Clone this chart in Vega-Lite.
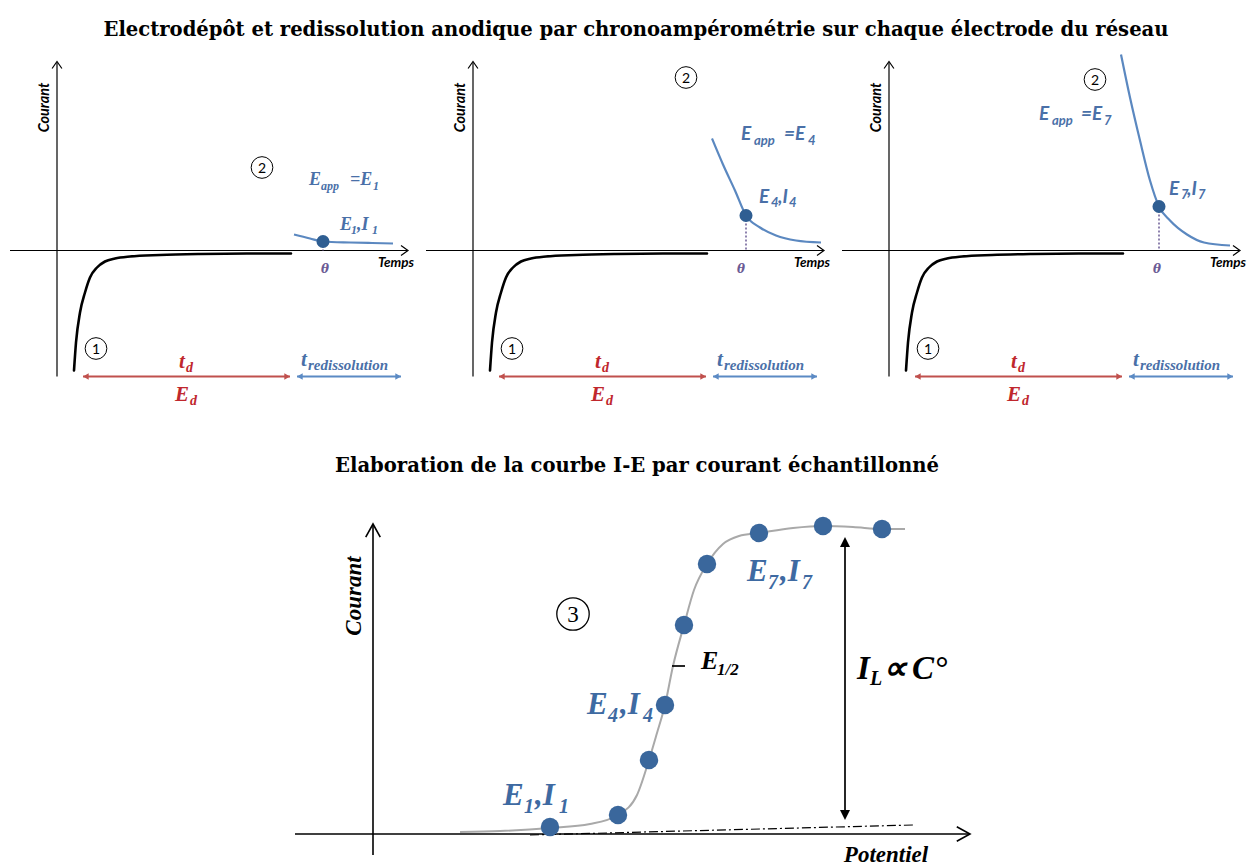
{
"$schema": "https://vega.github.io/schema/vega-lite/v6.json",
"padding": {"left": 0, "right": 0, "top": 18.5, "bottom": 0},
"background": "white",
"spacing": 45.5,
"title": {"text": "Electrodépôt et redissolution anodique par chronoampérométrie sur chaque électrode du réseau", "font": "DejaVu Serif", "fontSize": 19.6, "fontWeight": "bold", "color": "black", "anchor": "start", "align": "center", "frame": "group", "offset": 10, "dx": 636},
"config": {"view": {"stroke": null}, "axis": {"disable": true}, "legend": {"disable": true}, "facet": {"spacing": 0}},
"datasets": {
"top": [
{"p":[1,2,3],"k":"axis","t":-47,"I":0,"t2":350,"I2":0},
{"p":[1,2,3],"k":"axis","t":0,"I":-126,"t2":0,"I2":188},
{"p":[1,2,3],"k":"hR","t":351,"I":0},
{"p":[1,2,3],"k":"hU","t":0,"I":189},
{"p":[1,2,3],"k":"blk","t":17,"I":-120},
{"p":[1,2,3],"k":"blk","t":19,"I":-92},
{"p":[1,2,3],"k":"blk","t":23,"I":-62},
{"p":[1,2,3],"k":"blk","t":28,"I":-42},
{"p":[1,2,3],"k":"blk","t":33,"I":-27},
{"p":[1,2,3],"k":"blk","t":40,"I":-17},
{"p":[1,2,3],"k":"blk","t":48,"I":-11},
{"p":[1,2,3],"k":"blk","t":58,"I":-8},
{"p":[1,2,3],"k":"blk","t":73,"I":-6},
{"p":[1,2,3],"k":"blk","t":103,"I":-4.5},
{"p":[1,2,3],"k":"blk","t":143,"I":-3.5},
{"p":[1,2,3],"k":"blk","t":190,"I":-3},
{"p":[1,2,3],"k":"blk","t":234,"I":-3},
{"p":[1,2,3],"k":"arr","c":"r","t":26,"t2":233,"I":-126,"I2":-126},
{"p":[1,2,3],"k":"arr","c":"b","t":240,"t2":344,"I":-126,"I2":-126},
{"p":[1,2,3],"k":"aL","c":"r","t":26,"I":-126},
{"p":[1,2,3],"k":"aR","c":"r","t":233,"I":-126},
{"p":[1,2,3],"k":"aL","c":"b","t":240,"I":-126},
{"p":[1,2,3],"k":"aR","c":"b","t":344,"I":-126},
{"p":[1,2,3],"k":"circ","t":39,"I":-98,"s":"1"},
{"p":[1,2,3],"k":"yl","t":-12,"I":143,"s":"Courant"},
{"p":[1,2,3],"k":"xl","t":339,"I":-12,"s":"Temps"},
{"p":[1,2,3],"k":"th","t":268,"I":-18,"s":"θ"},
{"p":[1,2,3],"k":"rm","t":122,"I":-117,"s":"t"},
{"p":[1,2,3],"k":"rs","t":129,"I":-121,"s":"d"},
{"p":[1,2,3],"k":"rm","t":118,"I":-150,"s":"E"},
{"p":[1,2,3],"k":"rs","t":133,"I":-154,"s":"d"},
{"p":[1,2,3],"k":"bm","t":244,"I":-115,"s":"t"},
{"p":[1,2,3],"k":"bs","t":251,"I":-119,"s":"redissolution"},

{"p":[1],"k":"blu","t":237,"I":16},
{"p":[1],"k":"blu","t":253,"I":12},
{"p":[1],"k":"blu","t":266,"I":9},
{"p":[1],"k":"blu","t":293,"I":8},
{"p":[1],"k":"blu","t":315,"I":7.5},
{"p":[1],"k":"blu","t":336,"I":7},
{"p":[1],"k":"pt","t":266,"I":9},
{"p":[1],"k":"dot","t":266,"I":9,"t2":266,"I2":0},
{"p":[1],"k":"circ","t":205,"I":83,"s":"2"},
{"p":[1],"k":"ef","t":252,"I":66,"s":"E"},
{"p":[1],"k":"efs","t":264,"I":61,"s":"app"},
{"p":[1],"k":"ef","t":293,"I":66,"s":"=E"},
{"p":[1],"k":"efs","t":316,"I":61,"s":"1"},
{"p":[1],"k":"ef","t":283,"I":21,"s":"E"},
{"p":[1],"k":"efs","t":294,"I":17,"s":"1"},
{"p":[1],"k":"ef","t":300,"I":21,"s":",I"},
{"p":[1],"k":"efs","t":315,"I":17,"s":"1"},

{"p":[2],"k":"blu","t":239,"I":112},
{"p":[2],"k":"blu","t":250,"I":86},
{"p":[2],"k":"blu","t":262,"I":60},
{"p":[2],"k":"blu","t":273,"I":35},
{"p":[2],"k":"blu","t":287,"I":23},
{"p":[2],"k":"blu","t":303,"I":15},
{"p":[2],"k":"blu","t":323,"I":10},
{"p":[2],"k":"blu","t":348,"I":8},
{"p":[2],"k":"pt","t":273,"I":35},
{"p":[2],"k":"dot","t":273,"I":35,"t2":273,"I2":0},
{"p":[2],"k":"circ","t":213,"I":173,"s":"2"},
{"p":[2],"k":"ea","t":268,"I":111,"s":"E"},
{"p":[2],"k":"eas","t":281,"I":106,"s":"app"},
{"p":[2],"k":"ea","t":311,"I":111,"s":"=E"},
{"p":[2],"k":"eas","t":335,"I":106,"s":"4"},
{"p":[2],"k":"ea","t":286,"I":48,"s":"E"},
{"p":[2],"k":"eas","t":298,"I":44,"s":"4"},
{"p":[2],"k":"ea","t":305,"I":48,"s":",I"},
{"p":[2],"k":"eas","t":316,"I":44,"s":"4"},

{"p":[3],"k":"blu","t":232,"I":196},
{"p":[3],"k":"blu","t":241,"I":153},
{"p":[3],"k":"blu","t":251,"I":110},
{"p":[3],"k":"blu","t":261,"I":70},
{"p":[3],"k":"blu","t":270,"I":44},
{"p":[3],"k":"blu","t":281,"I":30},
{"p":[3],"k":"blu","t":298,"I":16},
{"p":[3],"k":"blu","t":315,"I":8},
{"p":[3],"k":"blu","t":341,"I":5},
{"p":[3],"k":"pt","t":270,"I":44},
{"p":[3],"k":"dot","t":270,"I":44,"t2":270,"I2":0},
{"p":[3],"k":"circ","t":206,"I":171,"s":"2"},
{"p":[3],"k":"ea","t":150,"I":131,"s":"E"},
{"p":[3],"k":"eas","t":163,"I":126,"s":"app"},
{"p":[3],"k":"ea","t":192,"I":131,"s":"=E"},
{"p":[3],"k":"eas","t":215,"I":126,"s":"7"},
{"p":[3],"k":"ea","t":280,"I":56,"s":"E"},
{"p":[3],"k":"eas","t":292,"I":52,"s":"7"},
{"p":[3],"k":"ea","t":298,"I":56,"s":",I"},
{"p":[3],"k":"eas","t":309,"I":52,"s":"7"}
],
"bot": [
{"k":"axis","E":-78,"I":0,"E2":596,"I2":0},
{"k":"axis","E":0,"I":-21,"E2":0,"I2":309},
{"k":"hR","E":597,"I":0},
{"k":"hU","E":0,"I":310},
{"k":"dd","E":157,"I":-1},
{"k":"dd","E":540,"I":9},
{"k":"sig","E":87,"I":2},
{"k":"sig","E":127,"I":3},
{"k":"sig","E":177,"I":6},
{"k":"sig","E":217,"I":10},
{"k":"sig","E":245,"I":19},
{"k":"sig","E":264,"I":39},
{"k":"sig","E":276,"I":74},
{"k":"sig","E":284,"I":101},
{"k":"sig","E":292,"I":129},
{"k":"sig","E":300,"I":168},
{"k":"sig","E":311,"I":209},
{"k":"sig","E":321,"I":244},
{"k":"sig","E":334,"I":270},
{"k":"sig","E":350,"I":290},
{"k":"sig","E":366,"I":298},
{"k":"sig","E":386,"I":301},
{"k":"sig","E":420,"I":306},
{"k":"sig","E":450,"I":308},
{"k":"sig","E":480,"I":307},
{"k":"sig","E":509,"I":305},
{"k":"sig","E":532,"I":305},
{"k":"pt","E":177,"I":7},
{"k":"pt","E":245,"I":19},
{"k":"pt","E":276,"I":74},
{"k":"pt","E":292,"I":129},
{"k":"pt","E":311,"I":209},
{"k":"pt","E":334,"I":270},
{"k":"pt","E":386,"I":301},
{"k":"pt","E":450,"I":308},
{"k":"pt","E":509,"I":305},
{"k":"tick","E":299,"I":168,"E2":312,"I2":168},
{"k":"varr","E":472,"I":20,"E2":472,"I2":291},
{"k":"hUf","E":472,"I":297},
{"k":"hDf","E":472,"I":14},
{"k":"circ","E":200,"I":220,"s":"3"},
{"k":"yl","E":-19,"I":238,"s":"Courant"},
{"k":"xl","E":513,"I":-21,"s":"Potentiel"},
{"k":"bl","E":130,"I":29,"s":"E"},
{"k":"bls","E":151,"I":21,"s":"1"},
{"k":"bl","E":162,"I":29,"s":",I"},
{"k":"bls","E":186,"I":21,"s":"1"},
{"k":"bl","E":214,"I":120,"s":"E"},
{"k":"bls","E":235,"I":112,"s":"4"},
{"k":"bl","E":247,"I":120,"s":",I"},
{"k":"bls","E":270,"I":112,"s":"4"},
{"k":"bl","E":374,"I":253,"s":"E"},
{"k":"bls","E":395,"I":245,"s":"7"},
{"k":"bl","E":407,"I":253,"s":",I"},
{"k":"bls","E":429,"I":245,"s":"7"},
{"k":"km","E":328,"I":165,"s":"E"},
{"k":"ks","E":344,"I":159,"s":"1/2"},
{"k":"Lm","E":484,"I":155,"s":"I"},
{"k":"Ls","E":497,"I":149,"s":"L"},
{"k":"Lm","E":510,"I":155,"s":"∝"},
{"k":"Lm","E":539,"I":155,"s":"C°"}
]
},
"vconcat": [
{
"data": {"name": "top"},
"transform": [{"flatten": ["p"]}],
"facet": {"column": {"field": "p", "type": "ordinal", "header": null}},
"spacing": 0,
"spec": {
"width": 416, "height": 360,
"encoding": {
"x": {"field": "t", "type": "quantitative", "scale": {"domain": [-57, 359], "nice": false, "zero": false}},
"y": {"field": "I", "type": "quantitative", "scale": {"domain": [-160, 200], "nice": false, "zero": false}}
},
"layer": [
{"transform": [{"filter": "datum.k=='axis'"}], "mark": {"type": "rule", "stroke": "black", "strokeWidth": 1.2}, "encoding": {"x2": {"field": "t2"}, "y2": {"field": "I2"}}},
{"transform": [{"filter": "datum.k=='hR'"}], "mark": {"type": "point", "shape": "M -1 -0.7 L 0 0 L -1 0.7", "size": 196, "filled": false, "stroke": "black", "strokeWidth": 1.2, "opacity": 1}},
{"transform": [{"filter": "datum.k=='hU'"}], "mark": {"type": "point", "shape": "M -0.7 1 L 0 0 L 0.7 1", "size": 196, "filled": false, "stroke": "black", "strokeWidth": 1.2, "opacity": 1}},
{"transform": [{"filter": "datum.k=='blk'"}], "mark": {"type": "line", "stroke": "black", "strokeWidth": 2.6, "interpolate": "monotone", "strokeCap": "round"}},
{"transform": [{"filter": "datum.k=='blu'"}], "mark": {"type": "line", "stroke": "#5b88c0", "strokeWidth": 2.2, "interpolate": "monotone"}},
{"transform": [{"filter": "datum.k=='dot'"}], "mark": {"type": "rule", "stroke": "#6b5b95", "strokeWidth": 1.5, "strokeDash": [2, 2]}, "encoding": {"x2": {"field": "t2"}, "y2": {"field": "I2"}}},
{"transform": [{"filter": "datum.k=='pt'"}], "mark": {"type": "point", "shape": "circle", "filled": true, "fill": "#2f5e92", "size": 170, "opacity": 1}},
{"transform": [{"filter": "datum.k=='arr'"}], "mark": {"type": "rule", "strokeWidth": 2}, "encoding": {"x2": {"field": "t2"}, "y2": {"field": "I2"}, "color": {"field": "c", "type": "nominal", "scale": {"domain": ["r", "b"], "range": ["#c0504d", "#5b8ac4"]}, "legend": null}}},
{"transform": [{"filter": "datum.k=='aL'"}], "mark": {"type": "point", "shape": "M 0 0 L 1 -0.55 L 1 0.55 Z", "size": 130, "filled": true, "opacity": 1}, "encoding": {"color": {"field": "c", "type": "nominal", "scale": {"domain": ["r", "b"], "range": ["#c0504d", "#5b8ac4"]}, "legend": null}}},
{"transform": [{"filter": "datum.k=='aR'"}], "mark": {"type": "point", "shape": "M 0 0 L -1 -0.55 L -1 0.55 Z", "size": 130, "filled": true, "opacity": 1}, "encoding": {"color": {"field": "c", "type": "nominal", "scale": {"domain": ["r", "b"], "range": ["#c0504d", "#5b8ac4"]}, "legend": null}}},
{"transform": [{"filter": "datum.k=='circ'"}], "mark": {"type": "point", "shape": "circle", "filled": false, "stroke": "black", "strokeWidth": 1, "size": 470, "opacity": 1}},
{"transform": [{"filter": "datum.k=='circ'"}], "mark": {"type": "text", "font": "Lato", "fontSize": 14, "fill": "black", "align": "center", "baseline": "middle", "dy": 1}, "encoding": {"text": {"field": "s"}}},
{"transform": [{"filter": "datum.k=='yl'"}], "mark": {"type": "text", "font": "Lato", "fontSize": 14.5, "fontStyle": "italic", "fontWeight": "bold", "fill": "black", "align": "center", "baseline": "middle", "angle": 270}, "encoding": {"text": {"field": "s"}}},
{"transform": [{"filter": "datum.k=='xl'"}], "mark": {"type": "text", "font": "Lato", "fontSize": 13.5, "fontStyle": "italic", "fontWeight": "bold", "fill": "black", "align": "center", "baseline": "middle"}, "encoding": {"text": {"field": "s"}}},
{"transform": [{"filter": "datum.k=='th'"}], "mark": {"type": "text", "font": "DejaVu Serif", "fontSize": 12, "fontStyle": "italic", "fontWeight": "bold", "fill": "#6b5b95", "align": "center", "baseline": "middle"}, "encoding": {"text": {"field": "s"}}},
{"transform": [{"filter": "datum.k=='ea'"}], "mark": {"type": "text", "font": "Lato", "fontSize": 19, "fontStyle": "italic", "fontWeight": "bold", "fill": "#4a70a8", "align": "left", "baseline": "alphabetic"}, "encoding": {"text": {"field": "s"}}},
{"transform": [{"filter": "datum.k=='eas'"}], "mark": {"type": "text", "font": "Lato", "fontSize": 13, "fontStyle": "italic", "fontWeight": "bold", "fill": "#4a70a8", "align": "left", "baseline": "alphabetic"}, "encoding": {"text": {"field": "s"}}},
{"transform": [{"filter": "datum.k=='ef'"}], "mark": {"type": "text", "font": "Liberation Serif", "fontSize": 18, "fontStyle": "italic", "fontWeight": "bold", "fill": "#4a70a8", "align": "left", "baseline": "alphabetic"}, "encoding": {"text": {"field": "s"}}},
{"transform": [{"filter": "datum.k=='efs'"}], "mark": {"type": "text", "font": "Liberation Serif", "fontSize": 12, "fontStyle": "italic", "fontWeight": "bold", "fill": "#4a70a8", "align": "left", "baseline": "alphabetic"}, "encoding": {"text": {"field": "s"}}},
{"transform": [{"filter": "datum.k=='rm'"}], "mark": {"type": "text", "font": "Liberation Serif", "fontSize": 21, "fontStyle": "italic", "fontWeight": "bold", "fill": "#c0272d", "align": "left", "baseline": "alphabetic"}, "encoding": {"text": {"field": "s"}}},
{"transform": [{"filter": "datum.k=='rs'"}], "mark": {"type": "text", "font": "Liberation Serif", "fontSize": 14, "fontStyle": "italic", "fontWeight": "bold", "fill": "#c0272d", "align": "left", "baseline": "alphabetic"}, "encoding": {"text": {"field": "s"}}},
{"transform": [{"filter": "datum.k=='bm'"}], "mark": {"type": "text", "font": "Liberation Serif", "fontSize": 21, "fontStyle": "italic", "fontWeight": "bold", "fill": "#4a70a8", "align": "left", "baseline": "alphabetic"}, "encoding": {"text": {"field": "s"}}},
{"transform": [{"filter": "datum.k=='bs'"}], "mark": {"type": "text", "font": "Liberation Serif", "fontSize": 15, "fontStyle": "italic", "fontWeight": "bold", "fill": "#4a70a8", "align": "left", "baseline": "alphabetic"}, "encoding": {"text": {"field": "s"}}}
]
}
},
{
"data": {"name": "bot"},
"title": {"text": "Elaboration de la courbe I-E par courant échantillonné", "font": "DejaVu Serif", "fontSize": 19.6, "fontWeight": "bold", "color": "black", "anchor": "middle", "frame": "group", "offset": 10, "dx": 13},
"width": 1248, "height": 381,
"encoding": {
"x": {"field": "E", "type": "quantitative", "scale": {"domain": [-373, 875], "nice": false, "zero": false}},
"y": {"field": "I", "type": "quantitative", "scale": {"domain": [-34, 347], "nice": false, "zero": false}}
},
"layer": [
{"transform": [{"filter": "datum.k=='axis'"}], "mark": {"type": "rule", "stroke": "black", "strokeWidth": 1.6}, "encoding": {"x2": {"field": "E2"}, "y2": {"field": "I2"}}},
{"transform": [{"filter": "datum.k=='hR'"}], "mark": {"type": "point", "shape": "M -1 -0.55 L 0 0 L -1 0.55", "size": 700, "filled": false, "stroke": "black", "strokeWidth": 1.6, "opacity": 1}},
{"transform": [{"filter": "datum.k=='hU'"}], "mark": {"type": "point", "shape": "M -0.55 1 L 0 0 L 0.55 1", "size": 700, "filled": false, "stroke": "black", "strokeWidth": 1.6, "opacity": 1}},
{"transform": [{"filter": "datum.k=='dd'"}], "mark": {"type": "line", "stroke": "black", "strokeWidth": 1.2, "strokeDash": [9, 3, 2, 3]}},
{"transform": [{"filter": "datum.k=='sig'"}], "mark": {"type": "line", "stroke": "#a9a9a9", "strokeWidth": 2, "interpolate": "monotone"}},
{"transform": [{"filter": "datum.k=='pt'"}], "mark": {"type": "point", "shape": "circle", "filled": true, "fill": "#3a679c", "size": 340, "opacity": 1}},
{"transform": [{"filter": "datum.k=='tick' || datum.k=='varr'"}], "mark": {"type": "rule", "stroke": "black", "strokeWidth": 1.7}, "encoding": {"x2": {"field": "E2"}, "y2": {"field": "I2"}}},
{"transform": [{"filter": "datum.k=='hUf'"}], "mark": {"type": "point", "shape": "M 0 0 L -0.5 1 L 0.5 1 Z", "size": 400, "filled": true, "fill": "black", "opacity": 1}},
{"transform": [{"filter": "datum.k=='hDf'"}], "mark": {"type": "point", "shape": "M 0 0 L -0.5 -1 L 0.5 -1 Z", "size": 400, "filled": true, "fill": "black", "opacity": 1}},
{"transform": [{"filter": "datum.k=='circ'"}], "mark": {"type": "point", "shape": "circle", "filled": false, "stroke": "black", "strokeWidth": 1.3, "size": 1050, "opacity": 1}},
{"transform": [{"filter": "datum.k=='circ'"}], "mark": {"type": "text", "font": "Liberation Serif", "fontSize": 23, "fill": "black", "align": "center", "baseline": "middle", "dy": 1}, "encoding": {"text": {"field": "s"}}},
{"transform": [{"filter": "datum.k=='yl'"}], "mark": {"type": "text", "font": "Liberation Serif", "fontSize": 23, "fontStyle": "italic", "fontWeight": "bold", "fill": "black", "align": "center", "baseline": "middle", "angle": 270}, "encoding": {"text": {"field": "s"}}},
{"transform": [{"filter": "datum.k=='xl'"}], "mark": {"type": "text", "font": "Liberation Serif", "fontSize": 23, "fontStyle": "italic", "fontWeight": "bold", "fill": "black", "align": "center", "baseline": "middle"}, "encoding": {"text": {"field": "s"}}},
{"transform": [{"filter": "datum.k=='bl'"}], "mark": {"type": "text", "font": "Liberation Serif", "fontSize": 31, "fontStyle": "italic", "fontWeight": "bold", "fill": "#3e6aa2", "align": "left", "baseline": "alphabetic"}, "encoding": {"text": {"field": "s"}}},
{"transform": [{"filter": "datum.k=='bls'"}], "mark": {"type": "text", "font": "Liberation Serif", "fontSize": 20, "fontStyle": "italic", "fontWeight": "bold", "fill": "#3e6aa2", "align": "left", "baseline": "alphabetic"}, "encoding": {"text": {"field": "s"}}},
{"transform": [{"filter": "datum.k=='km'"}], "mark": {"type": "text", "font": "Liberation Serif", "fontSize": 26, "fontStyle": "italic", "fontWeight": "bold", "fill": "black", "align": "left", "baseline": "alphabetic"}, "encoding": {"text": {"field": "s"}}},
{"transform": [{"filter": "datum.k=='ks'"}], "mark": {"type": "text", "font": "Liberation Serif", "fontSize": 17, "fontStyle": "italic", "fontWeight": "bold", "fill": "black", "align": "left", "baseline": "alphabetic"}, "encoding": {"text": {"field": "s"}}},
{"transform": [{"filter": "datum.k=='Lm'"}], "mark": {"type": "text", "font": "Liberation Serif", "fontSize": 33, "fontStyle": "italic", "fontWeight": "bold", "fill": "black", "align": "left", "baseline": "alphabetic"}, "encoding": {"text": {"field": "s"}}},
{"transform": [{"filter": "datum.k=='Ls'"}], "mark": {"type": "text", "font": "Liberation Serif", "fontSize": 20, "fontStyle": "italic", "fontWeight": "bold", "fill": "black", "align": "left", "baseline": "alphabetic"}, "encoding": {"text": {"field": "s"}}}
]
}
]
}
